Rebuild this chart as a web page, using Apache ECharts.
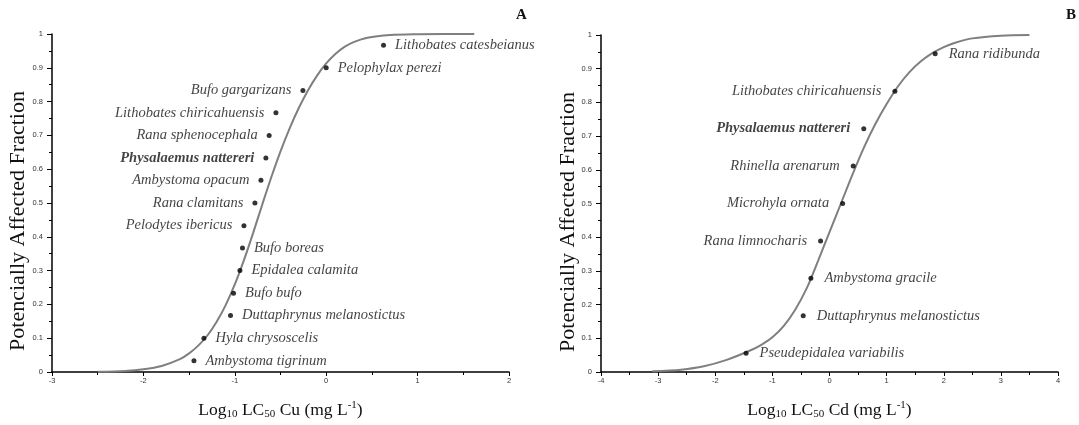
<!DOCTYPE html>
<html>
<head>
<meta charset="utf-8">
<script src="https://cdn.jsdelivr.net/npm/echarts@6/dist/echarts.min.js"></script>
<style>
  html, body { margin: 0; background: #fff; }
  #main { width: 1079px; height: 425px; }
</style>
</head>
<body>
<div id="main"></div>
<script>
// Panel A - Cu
const speciesA = ['Ambystoma tigrinum', 'Hyla chrysoscelis', 'Duttaphrynus melanostictus', 'Bufo bufo',
  'Epidalea calamita', 'Bufo boreas', 'Pelodytes ibericus', 'Rana clamitans', 'Ambystoma opacum',
  'Physalaemus nattereri', 'Rana sphenocephala', 'Lithobates chiricahuensis', 'Bufo gargarizans',
  'Pelophylax perezi', 'Lithobates catesbeianus']
const xA = [-1.447, -1.338, -1.047, -1.014, -0.944, -0.916, -0.90, -0.78, -0.714, -0.66, -0.624, -0.55, -0.255, 0.0, 0.627]
const yA = [0.033, 0.1, 0.167, 0.233, 0.3, 0.367, 0.433, 0.5, 0.567, 0.633, 0.7, 0.767, 0.833, 0.9, 0.967]
const sideA = ['right', 'right', 'right', 'right', 'right', 'right', 'left', 'left', 'left', 'left', 'left', 'left', 'left', 'right', 'right']
const curveAx = [-2.5, -2.2, -2.0, -1.8, -1.6, -1.5, -1.4, -1.3, -1.2, -1.1, -1.0, -0.9, -0.8, -0.7, -0.6, -0.5, -0.4, -0.3, -0.2, -0.1, 0, 0.1, 0.2, 0.3, 0.45, 0.7, 1.0, 1.3, 1.62]
const curveAy = [0.0005, 0.003, 0.008, 0.018, 0.038, 0.055, 0.078, 0.108, 0.148, 0.198, 0.259, 0.331, 0.411, 0.495, 0.577, 0.653, 0.721, 0.781, 0.833, 0.877, 0.913, 0.941, 0.962, 0.976, 0.989, 0.997, 0.9995, 1.0, 1.0]

// Panel B - Cd
const speciesB = ['Pseudepidalea variabilis', 'Duttaphrynus melanostictus', 'Ambystoma gracile', 'Rana limnocharis',
  'Microhyla ornata', 'Rhinella arenarum', 'Physalaemus nattereri', 'Lithobates chiricahuensis', 'Rana ridibunda']
const xB = [-1.46, -0.46, -0.326, -0.156, 0.23, 0.415, 0.60, 1.145, 1.85]
const yB = [0.056, 0.167, 0.278, 0.389, 0.5, 0.611, 0.722, 0.833, 0.944]
const sideB = ['right', 'right', 'right', 'left', 'left', 'left', 'left', 'left', 'right']
const curveBx = [-3.1, -2.6, -2.2, -1.8, -1.4, -1.2, -1.0, -0.8, -0.6, -0.4, -0.2, 0, 0.2, 0.4, 0.6, 0.8, 1.0, 1.2, 1.4, 1.6, 1.8, 2.0, 2.2, 2.5, 3.0, 3.5]
const curveBy = [0.002, 0.007, 0.017, 0.036, 0.063, 0.08, 0.103, 0.137, 0.185, 0.248, 0.33, 0.415, 0.5, 0.585, 0.665, 0.735, 0.795, 0.848, 0.89, 0.922, 0.946, 0.964, 0.977, 0.99, 0.998, 1.0]

const boldName = 'Physalaemus nattereri'
const serif = '"Liberation Serif", "Times New Roman", serif'

const myChart = echarts.init(document.getElementById('main'))

const tickLabel = { color: '#333', fontSize: 7.5, fontFamily: '"Liberation Sans Narrow", "Liberation Sans", sans-serif' }

function xAxisFor(idx, min, max, metal) {
  return {
    gridIndex: idx,
    type: 'value',
    min: min,
    max: max,
    interval: 1,
    name: '{a|Log}{s|10}{a| LC}{s|50}{a| ' + metal + ' (mg L}{p|-1}{a|)}',
    nameLocation: 'middle',
    nameGap: 26,
    nameTextStyle: {
      rich: {
        a: { fontFamily: serif, fontSize: 17.5, color: '#111', lineHeight: 24 },
        s: { fontFamily: serif, fontSize: 11, color: '#111', lineHeight: 11, padding: [9, 0, 0, 0] },
        p: { fontFamily: serif, fontSize: 11, color: '#111', lineHeight: 11, padding: [0, 0, 9, 0] }
      }
    },
    axisLine: { onZero: false, lineStyle: { color: '#000', width: 1.5 } },
    axisTick: { length: 4, lineStyle: { color: '#000' } },
    minorTick: { show: true, splitNumber: 2, length: 3, lineStyle: { color: '#000' } },
    axisLabel: Object.assign({ margin: 5 }, tickLabel),
    splitLine: { show: false }
  }
}

function yAxisFor(idx) {
  return {
    gridIndex: idx,
    type: 'value',
    min: 0,
    max: 1,
    interval: 0.1,
    axisLine: { onZero: false, lineStyle: { color: '#000', width: 1.5 } },
    axisTick: { length: 5, lineStyle: { color: '#000' } },
    minorTick: { show: true, splitNumber: 2, length: 3, lineStyle: { color: '#000' } },
    axisLabel: Object.assign({ margin: 9 }, tickLabel),
    splitLine: { show: false }
  }
}

function dots(xs, ys, names, sides, idx, dist) {
  return {
    type: 'scatter',
    xAxisIndex: idx,
    yAxisIndex: idx,
    symbolSize: 5,
    itemStyle: { color: '#000' },
    z: 5,
    label: {
      show: true,
      formatter: '{b}',
      distance: dist,
      fontFamily: serif,
      fontStyle: 'italic',
      fontSize: 14.5,
      color: '#111'
    },
    data: xs.map((x, i) => ({
      name: names[i],
      value: [x, ys[i]],
      label: { position: sides[i], fontWeight: names[i] === boldName ? 'bold' : 'normal' }
    }))
  }
}

function curve(xs, ys, idx) {
  return {
    type: 'line',
    xAxisIndex: idx,
    yAxisIndex: idx,
    showSymbol: false,
    smooth: 0.3,
    lineStyle: { color: '#7f7f7f', width: 2 },
    data: xs.map((x, i) => [x, ys[i]])
  }
}

// y 轴标题单独画，位置比轴中心略靠下
function yTitle(x, y) {
  return {
    type: 'text',
    x: x,
    y: y,
    rotation: Math.PI / 2,
    style: {
      text: 'Potencially Affected Fraction',
      font: '22px ' + serif,
      fill: '#111',
      align: 'center',
      verticalAlign: 'middle'
    }
  }
}

const option = {
  animation: false,
  grid: [
    { left: 52, right: 570, top: 34, bottom: 47 },
    { left: 601, right: 21, top: 35, bottom: 47 }
  ],
  xAxis: [xAxisFor(0, -3, 2, 'Cu'), xAxisFor(1, -4, 4, 'Cd')],
  yAxis: [yAxisFor(0), yAxisFor(1)],
  graphic: [
    yTitle(18, 221),
    yTitle(568, 222),
    { type: 'text', left: 516, top: 8, style: { text: 'A', font: 'bold 15px ' + serif, fill: '#111' } },
    { type: 'text', left: 1066, top: 8, style: { text: 'B', font: 'bold 15px ' + serif, fill: '#111' } }
  ],
  series: [
    curve(curveAx, curveAy, 0),
    dots(xA, yA, speciesA, sideA, 0, 9),
    curve(curveBx, curveBy, 1),
    dots(xB, yB, speciesB, sideB, 1, 11)
  ]
}

myChart.setOption(option)
</script>
</body>
</html>
